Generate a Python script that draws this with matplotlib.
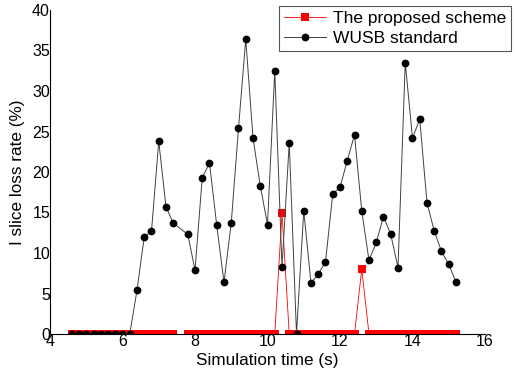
import matplotlib
matplotlib.use("Agg")
import matplotlib.pyplot as plt

plt.rcParams['font.family'] = ['Liberation Sans', 'DejaVu Sans']

x_wusb = [4.6, 4.8, 5.0, 5.2, 5.4, 5.6, 5.8, 6.0, 6.2, 6.4, 6.6, 6.8, 7.0, 7.2, 7.4,
          7.8, 8.0, 8.2, 8.4, 8.6, 8.8, 9.0, 9.2, 9.4, 9.6, 9.8, 10.0, 10.2, 10.4,
          10.6, 10.8, 11.0, 11.2, 11.4, 11.6, 11.8, 12.0, 12.2, 12.4, 12.6, 12.8,
          13.0, 13.2, 13.4, 13.6, 13.8, 14.0, 14.2, 14.4, 14.6, 14.8, 15.0, 15.2]
y_wusb = [0, 0, 0, 0, 0, 0, 0, 0, 0, 5.4, 12.0, 12.7, 23.8, 15.7, 13.7,
          12.3, 7.9, 19.3, 21.1, 13.4, 6.4, 13.7, 25.4, 36.4, 24.2, 18.3, 13.5, 32.5, 8.3,
          23.6, 0, 15.2, 6.3, 7.4, 8.9, 17.3, 18.1, 21.4, 24.6, 15.2, 9.1,
          11.3, 14.5, 12.3, 8.2, 33.5, 24.2, 26.5, 16.2, 12.7, 10.2, 8.6, 6.4]

x_prop = [4.6, 4.8, 5.0, 5.2, 5.4, 5.6, 5.8, 6.0, 6.2, 6.4, 6.6, 6.8, 7.0, 7.2, 7.4,
          7.6, 7.8, 8.0, 8.2, 8.4, 8.6, 8.8, 9.0, 9.2, 9.4, 9.6, 9.8, 10.0, 10.2, 10.4,
          10.6, 10.8, 11.0, 11.2, 11.4, 11.6, 11.8, 12.0, 12.2, 12.4, 12.6, 12.8,
          13.0, 13.2, 13.4, 13.6, 13.8, 14.0, 14.2, 14.4, 14.6, 14.8, 15.0, 15.2]
y_prop = [0, 0, 0, 0, 0, 0, 0, 0, 0, 0, 0, 0, 0, 0, 0,
          float('nan'), 0, 0, 0, 0, 0, 0, 0, 0, 0, 0, 0, 0, 0, 14.9,
          0, 0, 0, 0, 0, 0, 0, 0, 0, 0, 8.0, 0,
          0, 0, 0, 0, 0, 0, 0, 0, 0, 0, 0, 0]

x_ticks = [4, 6, 8, 10, 12, 14, 16]
y_ticks = [0, 5, 10, 15, 20, 25, 30, 35, 40]

fig = plt.figure(figsize=(5.15, 3.74), dpi=100)
ax = fig.add_axes([50/515, 40/374, 435/515, 324/374])

ax.plot(x_prop, y_prop, color='#ff0000', lw=0.6, marker='s', markersize=5.3,
        markeredgewidth=0, label='The proposed scheme')
ax.plot(x_wusb, y_wusb, color='#404040', lw=0.7, marker='o', markersize=5.6,
        markerfacecolor='black', markeredgecolor='black', markeredgewidth=0,
        label='WUSB standard')

ax.set_xlim(4, 16)
ax.set_ylim(0, 40)
ax.set_xticks(x_ticks)
ax.set_yticks(y_ticks)
ax.spines['top'].set_visible(False)
ax.spines['right'].set_visible(False)
ax.tick_params(length=0, labelsize=11.5, pad=0)
ax.set_xlabel('Simulation time (s)', fontsize=12.3, labelpad=3)
ax.set_ylabel('I slice loss rate (%)', fontsize=12.3, labelpad=5)

leg = fig.legend(loc='upper right', bbox_to_anchor=(511/515, 1 - 6/374),
                 bbox_transform=fig.transFigure, fontsize=12.5, fancybox=False,
                 framealpha=1, edgecolor='#555555', borderaxespad=0,
                 handlelength=2.4, borderpad=0.3, labelspacing=0.25,
                 handletextpad=0.4)
leg.get_frame().set_linewidth(0.8)

fig.savefig('out.png', dpi=100)
